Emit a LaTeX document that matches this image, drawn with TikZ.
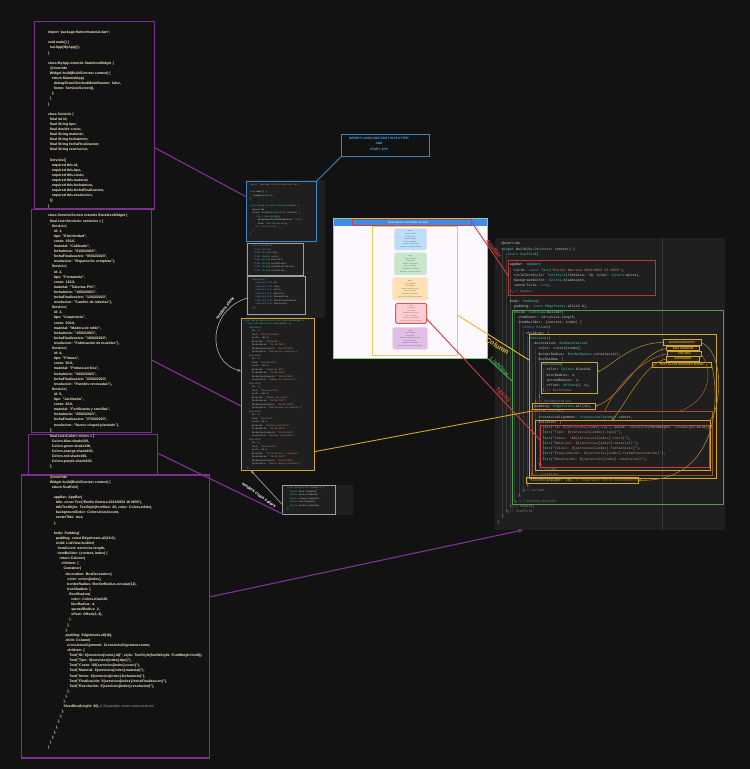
\documentclass[tikz,border=0pt]{standalone}
\usepackage{fontspec}
\setmainfont{Liberation Sans}
\newfontfamily\codemono{Liberation Mono}
\usetikzlibrary{arrows.meta,calc}
\definecolor{bgc}{HTML}{121212}
\definecolor{purp}{HTML}{7D2E91}
\definecolor{panel}{HTML}{1F1F1F}
\definecolor{cream}{HTML}{F2E9C8}
\definecolor{vsfg}{HTML}{D0D0D0}
\definecolor{vskw}{HTML}{569CD6}
\definecolor{vsty}{HTML}{4EC9B0}
\definecolor{vsst}{HTML}{CE9178}
\definecolor{vsnm}{HTML}{B5CEA8}
\definecolor{vsfn}{HTML}{DCDCAA}
\definecolor{vscm}{HTML}{808080}
\definecolor{gold}{HTML}{D4A52C}
\definecolor{brownc}{HTML}{A0522D}
\definecolor{redc}{HTML}{D33B3B}
\definecolor{greenc}{HTML}{3DAA4A}
\definecolor{bluec}{HTML}{3C86C8}
\definecolor{importblue}{HTML}{4AA8E8}
\definecolor{greyb}{HTML}{A0A0A0}
\definecolor{barblue}{HTML}{3D8BEA}
\definecolor{phgreen}{HTML}{86D38A}
\definecolor{phbg}{HTML}{FCF8FD}
\definecolor{phorange}{HTML}{F5C456}
\definecolor{labyel}{HTML}{E8B830}
\definecolor{cblue}{HTML}{BBDEFB}
\definecolor{cgreen}{HTML}{C8E6C9}
\definecolor{corange}{HTML}{FFE0B2}
\definecolor{cred}{HTML}{FFCDD2}
\definecolor{cpurple}{HTML}{E1BEE7}
\definecolor{tagfill}{HTML}{2A2412}
\definecolor{guidec}{HTML}{383838}
\colorlet{ck}{vskw}\colorlet{ct}{vsty}\colorlet{cs}{vsst}\colorlet{cn}{vsnm}\colorlet{cf}{vsfn}\colorlet{cc}{vscm}

\newcommand\indn[1]{\hspace*{#1\fontdimen2\font}}
\newcommand\ckw[1]{\textcolor{ck}{#1}}
\newcommand\cty[1]{\textcolor{ct}{#1}}
\newcommand\cst[1]{\textcolor{cs}{#1}}
\newcommand\cnm[1]{\textcolor{cn}{#1}}
\newcommand\cfn[1]{\textcolor{cf}{#1}}
\newcommand\ccmshow[1]{\textcolor{cc}{#1}}
\newcommand\cmhide[1]{}
\let\ccm\ccmshow
\newcommand\plainsyntax{\colorlet{ck}{cream}\colorlet{ct}{cream}\colorlet{cs}{cream}\colorlet{cn}{cream}\colorlet{cf}{cream}\let\ccm\cmhide}
\newcommand\vssyntax{\colorlet{ck}{vskw}\colorlet{ct}{vsty}\colorlet{cs}{vsst}\colorlet{cn}{vsnm}\colorlet{cf}{vsfn}\let\ccm\ccmshow}
\newcommand\leftfont{\fontsize{3.5}{5.1}\selectfont\bfseries\plainsyntax}
\newcommand\midfont{\codemono\fontsize{2.2}{3.5}\selectfont\vssyntax}
\newcommand\rightfont{\codemono\fontsize{3.4}{5.25}\selectfont\vssyntax}

\newcommand\codeMain{%
\ckw{import} \cst{'package:flutter/material.dart'};\\
\mbox{}\\
\ckw{void} \cfn{main}() \{\\
\indn{2}\cfn{runApp}(\cty{MyApp}());\\
\}\\
\mbox{}\\
\ckw{class} \cty{MyApp} \ckw{extends} \cty{StatelessWidget} \{\\
\indn{2}@override\\
\indn{2}\cty{Widget} \cfn{build}(\cty{BuildContext} context) \{\\
\indn{4}\ckw{return} \cty{MaterialApp}(\\
\indn{6}debugShowCheckedModeBanner: \ckw{false},\\
\indn{6}home: \cty{ServicioScreen}(),\\
\indn{4});\ccm{ // MaterialApp}\\
\indn{2}\}\\
\}}

\newcommand\codeFields{%
\ckw{class} \cty{Servicio} \{\\
\indn{2}\ckw{final} \cty{int} id;\\
\indn{2}\ckw{final} \cty{String} tipo;\\
\indn{2}\ckw{final} \cty{double} costo;\\
\indn{2}\ckw{final} \cty{String} material;\\
\indn{2}\ckw{final} \cty{String} fechaInicio;\\
\indn{2}\ckw{final} \cty{String} fechaFinalizacion;\\
\indn{2}\ckw{final} \cty{String} resolucion;}

\newcommand\codeCtor{%
\indn{2}\cty{Servicio}(\{\\
\indn{4}\ckw{required} \ckw{this}.id,\\
\indn{4}\ckw{required} \ckw{this}.tipo,\\
\indn{4}\ckw{required} \ckw{this}.costo,\\
\indn{4}\ckw{required} \ckw{this}.material,\\
\indn{4}\ckw{required} \ckw{this}.fechaInicio,\\
\indn{4}\ckw{required} \ckw{this}.fechaFinalizacion,\\
\indn{4}\ckw{required} \ckw{this}.resolucion,\\
\indn{2}\});}

\newcommand\svc[7]{%
\indn{4}\cty{Servicio}(\\
\indn{6}id: \cnm{#1},\\
\indn{6}tipo: \cst{"#2"},\\
\indn{6}costo: \cnm{#3},\\
\indn{6}material: \cst{"#4"},\\
\indn{6}fechaInicio: \cst{"#5"},\\
\indn{6}fechaFinalizacion: \cst{"#6"},\\
\indn{6}resolucion: \cst{"#7"}),\\}

\newcommand\codeList{%
\ckw{class} \cty{ServicioScreen} \ckw{extends} \cty{StatelessWidget} \{\\
\indn{2}\ckw{final} \cty{List}<\cty{Servicio}> servicios = [\\
\svc{1}{Electricidad}{150.0}{Cableado}{01/02/2023}{05/02/2023}{Reparación completa}%
\svc{2}{Fontanería}{120.0}{Tuberías PVC}{10/02/2023}{12/02/2023}{Cambio de tuberías}%
\svc{3}{Carpintería}{200.0}{Madera de roble}{15/02/2023}{18/02/2023}{Fabricación de muebles}%
\svc{4}{Pintura}{90.0}{Pintura acrílica}{20/02/2023}{22/02/2023}{Paredes renovadas}%
\svc{5}{Jardinería}{80.0}{Fertilizante y semillas}{25/02/2023}{27/02/2023}{Nuevo césped plantado}%
\indn{2}];}

\newcommand\codeColors{%
\indn{2}\ckw{final} \cty{List}<\cty{Color}> colors = [\\
\indn{4}\cty{Colors}.blue.shade100,\\
\indn{4}\cty{Colors}.green.shade100,\\
\indn{4}\cty{Colors}.orange.shade100,\\
\indn{4}\cty{Colors}.red.shade100,\\
\indn{4}\cty{Colors}.purple.shade100,\\
\indn{2}];}

\newcommand\codeBuild{%
\indn{2}@override\\
\indn{2}\cty{Widget} \cfn{build}(\cty{BuildContext} context) \{\\
\indn{4}\ckw{return} \cty{Scaffold}(\\
\mbox{}\\
\indn{6}appBar: \cty{AppBar}(\\
\indn{8}title: \ckw{const} \cty{Text}(\cst{'Emilio Barrera 2023/0852 16 0650'}),\\
\indn{8}titleTextStyle: \cty{TextStyle}(fontSize: \cnm{20}, color: \cty{Colors}.white),\\
\indn{8}backgroundColor: \cty{Colors}.blueAccent,\\
\indn{8}centerTitle: \ckw{true},\\
\indn{6}),\ccm{ // AppBar}\\
\mbox{}\\
\indn{6}body: \cty{Padding}(\\
\indn{8}padding: \ckw{const} \cty{EdgeInsets}.\cfn{all}(\cnm{16.0}),\\
\indn{8}child: \cty{ListView}.\cfn{builder}(\\
\indn{10}itemCount: servicios.length,\\
\indn{10}itemBuilder: (context, index) \{\\
\indn{12}\ckw{return} \cty{Column}(\\
\indn{14}children: [\\
\indn{16}\cty{Container}(\\
\indn{18}decoration: \cty{BoxDecoration}(\\
\indn{20}color: colors[index],\\
\indn{20}borderRadius: \cty{BorderRadius}.\cfn{circular}(\cnm{12}),\\
\indn{20}boxShadow: [\\
\indn{22}\cty{BoxShadow}(\\
\indn{24}color: \cty{Colors}.black26,\\
\indn{24}blurRadius: \cnm{4},\\
\indn{24}spreadRadius: \cnm{2},\\
\indn{24}offset: \cty{Offset}(\cnm{2}, \cnm{4}),\\
\indn{22}),\ccm{ // BoxShadow}\\
\indn{20}],\\
\indn{18}),\ccm{ // BoxDecoration}\\
\indn{18}padding: \cty{EdgeInsets}.\cfn{all}(\cnm{16}),\\
\indn{18}child: \cty{Column}(\\
\indn{20}crossAxisAlignment: \cty{CrossAxisAlignment}.center,\\
\indn{20}children: [\\
\indn{22}\cty{Text}(\cst{"ID: \$\{servicios[index].id\}"}, style: \cty{TextStyle}(fontWeight: \cty{FontWeight}.bold)),\\
\indn{22}\cty{Text}(\cst{"Tipo: \$\{servicios[index].tipo\}"}),\\
\indn{22}\cty{Text}(\cst{"Costo: \textbackslash\$\$\{servicios[index].costo\}"}),\\
\indn{22}\cty{Text}(\cst{"Material: \$\{servicios[index].material\}"}),\\
\indn{22}\cty{Text}(\cst{"Inicio: \$\{servicios[index].fechaInicio\}"}),\\
\indn{22}\cty{Text}(\cst{"Finalización: \$\{servicios[index].fechaFinalizacion\}"}),\\
\indn{22}\cty{Text}(\cst{"Resolución: \$\{servicios[index].resolucion\}"}),\\
\indn{20}],\\
\indn{18}),\ccm{ // Column}\\
\indn{16}),\ccm{ // Container}\\
\indn{16}\cty{SizedBox}(height: \cnm{20}), \textcolor{vscm}{// Separador entre contenedores}\\
\indn{14}],\\
\indn{12});\ccm{ // Column}\\
\indn{10}\},\\
\indn{8}),\ccm{ // ListView.builder}\\
\indn{6}),\ccm{ // Padding}\\
\indn{4});\ccm{ // Scaffold}\\
\indn{2}\}\\
\}}

\newcommand\bx[7]{\node[#2,anchor=north west,inner sep=0pt,outer sep=0pt,minimum width={(#5)-(#3)},minimum height={(#6)-(#4)}] (#1) at (#3,#4) {#7};}

\tikzset{
  pbox/.style={draw=purp, line width=1.3pt},
  codetxt/.style={anchor=north west, inner sep=0pt, outer sep=0pt, align=left},
  hl/.style={line width=1pt},
  tagst/.style={draw=gold, line width=0.7pt, fill=tagfill, text=gold, font=\bfseries\fontsize{2.9}{3}\selectfont},
  cardst/.style={rounded corners=1.5pt, align=center, text=black!65, font=\fontsize{1.45}{2.55}\selectfont, draw=black!12, line width=0.3pt},
  purpline/.style={draw=purp, line width=1.2pt},
  blueline/.style={draw=bluec, line width=0.9pt},
  greyarrow/.style={draw=greyb, line width=0.7pt, -{Stealth[length=3.5pt,width=3pt]}},
  redline/.style={draw=redc, line width=0.9pt},
  yelline/.style={draw=labyel, line width=0.9pt},
  greenline/.style={draw=greenc, line width=0.9pt},
  tagcurve/.style={draw=gold!80!black, line width=0.6pt},
  lab/.style={font=\bfseries\fontsize{6}{6}\selectfont, inner sep=0pt},
  labsmall/.style={font=\bfseries\fontsize{4.2}{4.2}\selectfont, inner sep=0pt, text=white},
  guide/.style={draw=guidec, line width=0.4pt}
}

\begin{document}
\begin{tikzpicture}[x=1pt,y=-1pt]
\useasboundingbox (0,0) rectangle (750,769);
\fill[bgc] (0,0) rectangle (750,769);

% ---------- left code boxes ----------
\bx{boxA}{pbox}{34.3}{21.7}{154.3}{209}{}
\bx{boxB}{pbox}{31.5}{209.8}{151.5}{432.5}{}
\bx{boxC}{pbox}{28.2}{434.3}{157.3}{475.3}{}
\bx{boxD}{pbox}{21.7}{475}{209.3}{758}{}
\node[codetxt, font=\leftfont, text=cream] (tA) at (48,31.1) {\codeMain\\\mbox{}\\\codeFields\\\mbox{}\\\codeCtor\\\}};
\node[codetxt, font=\leftfont, text=cream] (tB) at (48,214.4) {\codeList};
\node[codetxt, font=\leftfont, text=cream] (tC) at (48,434.7) {\codeColors};
\node[codetxt, font=\leftfont, text=cream] (tD) at (48,475.6) {\codeBuild};

% ---------- middle column ----------
\bx{mpanel}{fill=panel}{246}{180}{325}{318}{}
\bx{m1}{draw=bluec, line width=0.9pt}{246.7}{181}{316.7}{241}{}
\bx{m2}{draw=greyb, line width=0.9pt}{247.7}{243.3}{303.3}{275}{}
\bx{m3}{draw=greyb, line width=0.9pt}{247.3}{276.7}{305.7}{314}{}
\bx{m4}{draw=gold, fill=panel, line width=1pt}{241}{318.3}{314.3}{470.7}{}
\bx{m5panel}{fill=panel}{282}{485}{352.7}{514.5}{}
\bx{m5}{draw=greyb, line width=0.9pt}{282.7}{485.7}{335}{514}{}
\node[codetxt, font=\midfont, text=vsfg] (tm1) at (250,184) {\codeMain};
\node[codetxt, font=\midfont, text=vsfg] (tm2) at (251.5,245.2) {\codeFields};
\node[codetxt, font=\midfont, text=vsfg] (tm3) at (250,278.6) {\codeCtor};
\node[codetxt, font=\midfont, text=vsfg] (tm4) at (244,319.6) {\codeList};
\node[codetxt, font=\midfont, text=vsfg] (tm5) at (284.5,487.3) {\codeColors};

% ---------- import label ----------
\bx{importbox}{draw=bluec, line width=0.9pt, fill=bgc}{341}{134.3}{429.3}{156.7}{}
\node[font=\bfseries\fontsize{3.2}{5.2}\selectfont, text=importblue, align=center, inner sep=0pt] (importtxt) at (379,143.8) {IMPORT LINGUAGE DART IN FLUTTER\\AND\\START APP};

% ---------- phone ----------
\bx{phone}{draw=phgreen, fill=phbg, line width=1pt}{333}{218}{487}{358}{}
\bx{pbar}{fill=barblue}{333.5}{218.5}{486.5}{225.8}{}
\node[font=\fontsize{2.6}{2.6}\selectfont, text=white, inner sep=0pt] (ptitle) at (408,222.2) {Emilio Barrera 2023/0852 16 0650};
\bx{ptitlebox}{draw=redc, line width=0.9pt}{352.7}{219.3}{471.7}{225.3}{}
\bx{porange}{draw=phorange, line width=1pt}{372.3}{226.5}{457.3}{355}{}
\bx{card1}{cardst, fill=cblue}{394.3}{228.5}{426.7}{250}{\textbf{ID: 1}\\Tipo: Electricidad\\Costo: \$150.0\\Material: Cableado\\Inicio: 01/02/2023\\Finalización: 05/02/2023\\Resolución: Reparación completa}
\bx{card2}{cardst, fill=cgreen}{394.3}{252.7}{426.7}{275}{\textbf{ID: 2}\\Tipo: Fontanería\\Costo: \$120.0\\Material: Tuberías PVC\\Inicio: 10/02/2023\\Finalización: 12/02/2023\\Resolución: Cambio de tuberías}
\bx{card3}{cardst, fill=corange}{392.7}{277.7}{427.7}{300}{\textbf{ID: 3}\\Tipo: Carpintería\\Costo: \$200.0\\Material: Madera de roble\\Inicio: 15/02/2023\\Finalización: 18/02/2023\\Resolución: Fabricación de muebles}
\bx{card4}{cardst, fill=cred, draw=redc!85, line width=1pt}{395.7}{303.3}{426.7}{323.3}{\textbf{ID: 4}\\Tipo: Pintura\\Costo: \$90.0\\Material: Pintura acrílica\\Inicio: 20/02/2023\\Finalización: 22/02/2023\\Resolución: Paredes renovadas}
\bx{card5}{cardst, fill=cpurple}{392.7}{327.3}{427.7}{349.3}{\textbf{ID: 5}\\Tipo: Jardinería\\Costo: \$80.0\\Material: Fertilizante y semillas\\Inicio: 25/02/2023\\Finalización: 27/02/2023\\Resolución: Nuevo césped plantado}

% ---------- right code panel ----------
\bx{rpanel}{fill=panel}{495}{238}{725}{530}{}
\draw[guide] (rpanel.north -| 662,0) -- (rpanel.south -| 662,0);
\foreach \lv/\ya/\yb in {2/250/517, 4/256/512, 6/268/507, 8/306/502, 10/319/496, 12/331/491, 14/337/486, 16/342/480, 18/347/472, 20/352/465, 22/368/391, 22/427/460}
  \draw[guide] (497.7+\lv*2.04+0.6, \ya) -- (497.7+\lv*2.04+0.6, \yb);
\node[codetxt, font=\rightfont, text=vsfg] (tR) at (497.7,242.3) {\codeBuild};
\bx{rAppBar}{hl, draw=redc!90!black}{508.5}{260.5}{655}{295.5}{}
\bx{rListView}{hl, draw=greenc}{512}{310}{723.5}{504.5}{}
\bx{rColumn}{hl, draw=gold}{529}{334}{716}{478}{}
\bx{rShadow}{hl, draw=gold}{541.7}{362}{597}{393}{}
\bx{rPad}{hl, draw=gold}{532}{403}{595}{409.5}{}
\bx{rChild}{hl, draw=brownc}{532}{411}{712.5}{475.5}{}
\bx{rChildren}{hl, draw=gold}{535}{420.5}{710}{470}{}
\bx{rText}{hl, draw=redc}{540}{425}{709}{467}{}
\bx{rSized}{hl, draw=gold}{526.7}{477}{638.5}{483.5}{}
\bx{tag1}{tagst}{663}{339.7}{701}{345}{BOXDECORATION}
\bx{tag2}{tagst}{666.7}{346}{699.5}{350.7}{BOX SHADOW}
\bx{tag3}{tagst}{667.7}{351.3}{701}{356}{COLUMN}
\bx{tag4}{tagst}{666.7}{356.7}{699}{361.2}{CONTAINER}
\bx{tag5}{tagst}{652.3}{362}{711.7}{367.5}{TEXT CLASS SERVICES MODEL}

% tag curves
\draw[tagcurve, -{Stealth[length=2.5pt,width=2.2pt]}] (tag1.west) .. controls (630,343) and (612,366) .. (rShadow.east |- 0,372);
\draw[tagcurve, -{Stealth[length=2.5pt,width=2.2pt]}] (tag2.west) .. controls (640,352) and (622,398) .. (rPad.east);
\draw[tagcurve, draw=brownc, line width=0.8pt] (tag3.west) .. controls (640,358) and (612,392) .. (rChild.north -| 605,0);
\draw[tagcurve, -{Stealth[length=2.5pt,width=2.2pt]}] (tag4.west) .. controls (645,362) and (625,405) .. (rChildren.north -| 612,0);
\draw[tagcurve] (tag1.east) .. controls (724,352) and (722,405) .. (rChildren.north east);
\draw[tagcurve, draw=brownc] (tag3.east) .. controls (716,375) and (706,402) .. (rChild.north -| 680,0);
\draw[tagcurve, -{Stealth[length=2.5pt,width=2.2pt]}] (tag5.east) .. controls (722,410) and (712,482) .. (rSized.east);

% ---------- connectors ----------
\draw[purpline] (boxA.east |- 0,147.5) -- (m1.west |- 0,197);
\draw[purpline] (boxB.east |- 0,360) -- (m4.west |- 0,406);
\draw[purpline] (boxC.east |- 0,453) -- (m5.south west);
\draw[purpline, -{Stealth[length=5pt,width=4pt]}] (boxD.east |- 0,597) -- ([xshift=28pt]rpanel.south west);
\draw[blueline] (importbox.south west) -- (m1.north east);
\draw[greyarrow] (m3.west |- 0,298) .. controls (208,310) and (206,362) .. (m4.west |- 0,371);
\draw[greyarrow] (m5.west |- 0,505) -- (m4.south -| 251,0);
\draw[redline] (ptitlebox.east) -- (rAppBar.west |- 0,276);
\draw[yelline] (porange.east |- 0,315) -- (rColumn.west |- 0,360);
\draw[greenline] (phone.south east) -- (rListView.west |- 0,381);
\draw[redline] (card4.east |- 0,319) -- (rText.west |- 0,440);
\draw[yelline, draw=gold] (m4.east |- 0,451.7) -- (rChild.north west);

% ---------- labels ----------
\node[lab, text=redc, rotate=-52] (lAppBar) at (493,249) {AppBar};
\node[lab, text=labyel, rotate=-32, font=\bfseries\fontsize{7}{7}\selectfont] (lColumn) at (497.5,346) {Column};
\node[lab, text=greenc, rotate=-45] (lListView) at (499.5,366.5) {ListView};
\node[lab, text=redc, rotate=-47, font=\bfseries\fontsize{5.5}{5.5}\selectfont] (lTexto) at (503,395) {TEXTO};
\node[labsmall, rotate=52] (lRenders) at (225,308) {renders class};
\node[labsmall, rotate=-36] (lRenders2) at (259,495) {renders class colors};
\end{tikzpicture}
\end{document}
